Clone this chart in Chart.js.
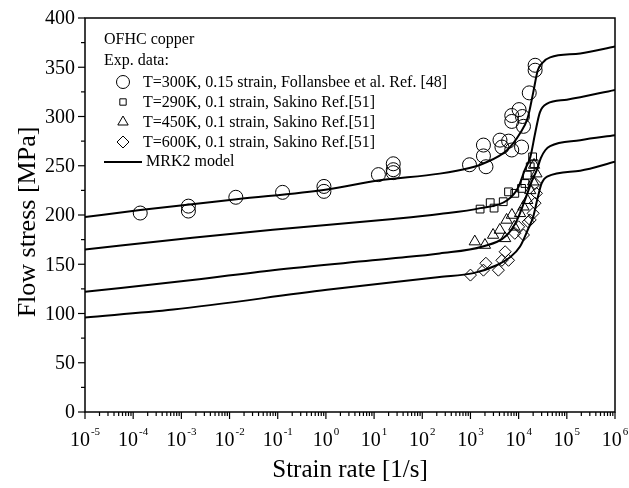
<!DOCTYPE html>
<html>
<head>
<meta charset="utf-8">
<script src="https://cdn.jsdelivr.net/npm/chart.js@4.4.1/dist/chart.umd.min.js"></script>
<style>
  html, body { margin: 0; background: #fff; }
</style>
</head>
<body>
<canvas id="chart" width="629" height="488"></canvas>
<script>
// MRK2 model curves (strain rate [1/s], flow stress [MPa])
const model300Rate = [1e-5, 1.4e-4, 1.4e-2, 1.05, 12, 230, 1e3, 1.8e3, 5.8e3, 1.07e4, 1.55e4, 2e4, 2.5e4, 3.2e4, 4.5e4, 1.9e5, 1e6];
const model300Stress = [198, 205, 216, 226, 235, 242, 248, 252, 266, 283, 299, 324, 347, 355, 360, 364, 371];
const model290Rate = [1e-5, 1.7e-3, 7.9e-2, 25, 230, 1.6e3, 5.8e3, 9.8e3, 1.35e4, 1.75e4, 2.2e4, 2.75e4, 3.9e4, 1e5, 1e6];
const model290Stress = [165, 177, 185, 196, 201, 207, 215, 228, 246, 259, 283, 304, 313, 317, 327];
const model450Rate = [1e-5, 1.7e-3, 7.9e-2, 25, 230, 1.8e3, 5.8e3, 9.3e3, 1.35e4, 1.9e4, 2.4e4, 2.9e4, 3.6e4, 4.5e4, 1.9e5, 1e6];
const model450Stress = [122, 134, 144, 156, 161, 168, 180, 195, 215, 235, 246, 258, 266, 270, 276, 281];
const model600Rate = [1e-5, 6.8e-4, 1.05, 230, 1.15e3, 3.5e3, 6.6e3, 1.07e4, 1.55e4, 2e4, 2.5e4, 3e4, 3.9e4, 1.9e5, 1e6];
const model600Stress = [96, 104, 124, 137, 141, 149, 157, 168, 185, 198, 218, 232, 239, 245, 254];

// experimental points
const exp300Rate = [1.4e-4, 1.4e-3, 1.4e-3, 1.35e-2, 0.126, 0.91, 0.91, 12.3, 25, 25, 25, 955, 2.1e3, 1.86e3, 1.86e3, 4.5e3, 4.1e3, 6.2e3, 7.2e3, 7.2e3, 7.2e3, 1.15e4, 1.2e4, 1.26e4, 1.02e4, 1.66e4, 2.2e4, 2.2e4];
const exp300Stress = [202, 209, 204, 218, 223, 229, 224, 241, 252, 246, 243, 251, 249, 260, 271, 269, 276, 275, 266, 301, 295, 269, 300, 290, 307, 324, 352, 347];
const exp290Rate = [1585, 2570, 3090, 4790, 6170, 8320, 1.15e4, 1.35e4, 1.51e4, 1.74e4, 1.95e4, 2.1e4];
const exp290Stress = [206, 212.5, 207, 213.5, 223.5, 222, 227, 232, 240.5, 249, 259, 252];
const exp450Rate = [1230, 2000, 2950, 4070, 5250, 5620, 7240, 8130, 1.07e4, 1.26e4, 1.51e4, 1.74e4, 2e4, 2.34e4, 2.09e4];
const exp450Stress = [173, 169.5, 179.7, 184.8, 176.3, 195, 200, 188, 201.7, 208.4, 215, 225, 233.8, 242, 250.8];
const exp600Rate = [1000, 1860, 2090, 3800, 5250, 6170, 4500, 8320, 1.26e4, 1e4, 1.58e4, 1.74e4, 2e4, 2.19e4, 2.34e4, 2.19e4];
const exp600Stress = [139, 144, 151, 144, 162.7, 154, 154, 181.4, 179.7, 188, 193, 195, 201.7, 212, 222, 232];

const xDecades = [-5, -4, -3, -2, -1, 0, 1, 2, 3, 4, 5, 6];
const yTicks = [0, 50, 100, 150, 200, 250, 300, 350, 400];

const SERIF = '"Liberation Serif", "Times New Roman", serif';

function pairs(xs, ys) {
    return xs.map((x, i) => ({ x: x, y: ys[i] }));
}

function modelSet(xs, ys) {
    return {
        label: 'MRK2 model',
        data: pairs(xs, ys),
        showLine: true,
        borderColor: '#000',
        borderWidth: 2,
        pointRadius: 0,
        cubicInterpolationMode: 'monotone',
    };
}

function expSet(label, xs, ys, style, radius, legendRadius) {
    return {
        label: label,
        data: pairs(xs, ys),
        showLine: false,
        pointStyle: style,
        pointRadius: radius,
        legendRadius: legendRadius,
        borderColor: '#000',
        borderWidth: 1,
        backgroundColor: 'rgba(0,0,0,0)',
    };
}

// axes, frame, ticks and the legend block are drawn by hand
const framePlugin = {
    id: 'frame',
    afterDraw(chart) {
        const ctx = chart.ctx;
        const area = chart.chartArea;
        const xs = chart.scales.x;
        const ys = chart.scales.y;
        ctx.save();
        ctx.strokeStyle = '#000';
        ctx.fillStyle = '#000';
        ctx.lineWidth = 1.5;
        ctx.strokeRect(area.left, area.top, area.right - area.left, area.bottom - area.top);

        // y ticks
        ctx.lineWidth = 1.2;
        for (let v = 0; v <= 400; v += 25) {
            const py = ys.getPixelForValue(v);
            const len = v % 50 === 0 ? 7 : 4;
            ctx.beginPath();
            ctx.moveTo(area.left - len, py);
            ctx.lineTo(area.left, py);
            ctx.stroke();
        }
        ctx.font = '20px ' + SERIF;
        ctx.textAlign = 'right';
        ctx.textBaseline = 'middle';
        yTicks.forEach(v => ctx.fillText(String(v), area.left - 10, ys.getPixelForValue(v) + 1));

        // x ticks
        xDecades.forEach(e => {
            const px = xs.getPixelForValue(Math.pow(10, e));
            ctx.beginPath();
            ctx.moveTo(px, area.bottom);
            ctx.lineTo(px, area.bottom + 7);
            ctx.stroke();
            if (e < 6) {
                for (let m = 2; m <= 9; m++) {
                    const pm = xs.getPixelForValue(m * Math.pow(10, e));
                    ctx.beginPath();
                    ctx.moveTo(pm, area.bottom);
                    ctx.lineTo(pm, area.bottom + 4);
                    ctx.stroke();
                }
            }
            ctx.textAlign = 'left';
            ctx.textBaseline = 'alphabetic';
            ctx.font = '20px ' + SERIF;
            const w1 = ctx.measureText('10').width;
            ctx.font = '11px ' + SERIF;
            const exp = e < 0 ? '-' + Math.abs(e) : String(e);
            const w2 = ctx.measureText(exp).width;
            const x0 = px - (w1 + w2 + 1) / 2;
            ctx.font = '20px ' + SERIF;
            ctx.fillText('10', x0, area.bottom + 34);
            ctx.font = '11px ' + SERIF;
            ctx.fillText(exp, x0 + w1 + 1, area.bottom + 23);
        });

        // axis titles
        ctx.font = '25px ' + SERIF;
        ctx.textAlign = 'center';
        ctx.textBaseline = 'middle';
        ctx.fillText('Strain rate [1/s]', (area.left + area.right) / 2, 470);
        ctx.save();
        ctx.translate(28, 222);
        ctx.rotate(-Math.PI / 2);
        ctx.font = '26px ' + SERIF;
        ctx.fillText('Flow stress [MPa]', 0, 0);
        ctx.restore();

        // legend block
        ctx.font = '16px ' + SERIF;
        ctx.textAlign = 'left';
        ctx.textBaseline = 'middle';
        ctx.fillText('OFHC copper', 104, 40);
        ctx.fillText('Exp. data:', 104, 61);
        const rows = [0, 1, 2, 3].map(i => chart.data.datasets[4 + i]);
        rows.forEach((ds, i) => {
            const y = 82 + i * 20;
            ctx.lineWidth = 1;
            ctx.fillStyle = 'rgba(0,0,0,0)';
            Chart.helpers.drawPoint(ctx, {
                pointStyle: ds.pointStyle,
                radius: ds.legendRadius,
                rotation: 0,
                borderWidth: 1,
            }, 123, y);
            ctx.fillStyle = '#000';
            ctx.fillText(ds.label, 143, y + 1);
        });
        ctx.lineWidth = 2;
        ctx.beginPath();
        ctx.moveTo(104, 162);
        ctx.lineTo(142, 162);
        ctx.stroke();
        ctx.fillText('MRK2 model', 146, 162);
        ctx.restore();
    },
};

new Chart(document.getElementById('chart'), {
    type: 'scatter',
    data: {
        datasets: [
            modelSet(model300Rate, model300Stress),
            modelSet(model290Rate, model290Stress),
            modelSet(model450Rate, model450Stress),
            modelSet(model600Rate, model600Stress),
            expSet('T=300K, 0.15 strain, Follansbee et al. Ref. [48]', exp300Rate, exp300Stress, 'circle', 7, 6.5),
            expSet('T=290K, 0.1 strain, Sakino Ref.[51]', exp290Rate, exp290Stress, 'rect', 5.5, 4.5),
            expSet('T=450K, 0.1 strain, Sakino Ref.[51]', exp450Rate, exp450Stress, 'triangle', 6.5, 6),
            expSet('T=600K, 0.1 strain, Sakino Ref.[51]', exp600Rate, exp600Stress, 'rectRot', 6, 6),
        ],
    },
    options: {
        responsive: false,
        animation: false,
        devicePixelRatio: 1,
        layout: { padding: { left: 85, right: 14, top: 18, bottom: 76 } },
        plugins: { legend: { display: false }, tooltip: { enabled: false } },
        scales: {
            x: { type: 'logarithmic', min: 1e-5, max: 1e6, display: false },
            y: { type: 'linear', min: 0, max: 400, display: false },
        },
    },
    plugins: [framePlugin],
});
</script>
</body>
</html>
